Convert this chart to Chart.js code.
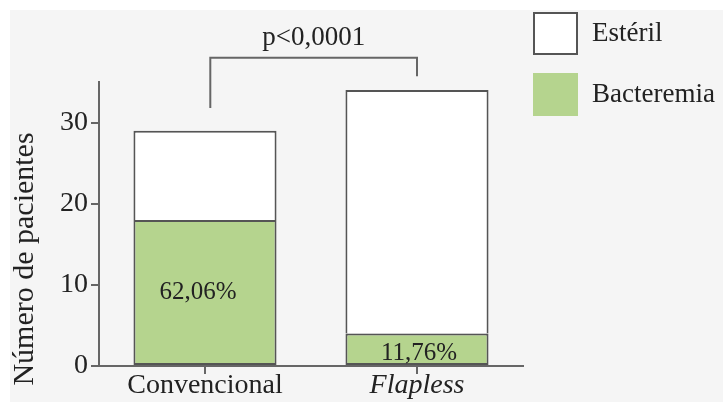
<!DOCTYPE html>
<html>
<head>
<meta charset="utf-8">
<script src="https://cdn.jsdelivr.net/npm/chart.js@4.4.1/dist/chart.umd.min.js"></script>
<style>
  html, body { margin: 0; padding: 0; background: #fff; }
  #wrap { position: relative; width: 723px; height: 402px; overflow: hidden; }
  #bg { position: absolute; left: 10px; top: 10px; right: 0; bottom: 0; background: #f5f5f5; }
  #chart { position: absolute; left: 0; top: 0; }
</style>
</head>
<body>
<div id="wrap"><div id="bg"></div><canvas id="chart" width="723" height="402"></canvas></div>
<script>
// datos
var grupos = ['Convencional', 'Flapless'];
var bacteremia = [18, 4];
var esteril = [11, 30];
var porcentajes = ['62,06%', '11,76%'];
var yTicks = [0, 10, 20, 30];
var yMax = 35;
var pValor = 'p<0,0001';
var tituloY = 'Número de pacientes';

var verde = '#b5d48e';
var borde = '#555';
var eje = '#666';
var serif = "'Liberation Serif', 'Times New Roman', serif";

var extras = {
  id: 'extras',
  afterDraw: function(chart) {
    var ctx = chart.ctx;
    var xs = chart.scales.x, ys = chart.scales.y;
    ctx.save();

    // corchete de significancia
    var xl = xs.getPixelForValue(0.025), xr = xs.getPixelForValue(1);
    var yTop = ys.getPixelForValue(38);
    ctx.strokeStyle = eje;
    ctx.lineWidth = 2;
    ctx.beginPath();
    ctx.moveTo(xl, ys.getPixelForValue(31.8));
    ctx.lineTo(xl, yTop);
    ctx.lineTo(xr, yTop);
    ctx.lineTo(xr, ys.getPixelForValue(35.7));
    ctx.stroke();

    ctx.fillStyle = '#222';
    ctx.font = '27px ' + serif;
    ctx.textAlign = 'center';
    ctx.textBaseline = 'alphabetic';
    ctx.fillText(pValor, (xl + xr) / 2, yTop - 13);

    // porcentajes dentro de las barras verdes
    var meta = chart.getDatasetMeta(0);
    ctx.font = '25px ' + serif;
    ctx.textBaseline = 'middle';
    meta.data.forEach(function(bar, i) {
      ctx.fillText(porcentajes[i], bar.x + (i === 0 ? -7 : 2), (bar.y + bar.base) / 2 + (i === 0 ? 0 : 4));
    });

    // titulo eje y
    ctx.save();
    ctx.translate(25, 259);
    ctx.rotate(-Math.PI / 2);
    ctx.font = '30px ' + serif;
    ctx.textAlign = 'center';
    ctx.textBaseline = 'middle';
    ctx.fillText(tituloY, 0, 0);
    ctx.restore();

    // leyenda
    var items = chart.data.datasets.slice().reverse();
    items.forEach(function(ds, i) {
      var by = 12 + i * 61;
      ctx.fillStyle = ds.backgroundColor;
      ctx.fillRect(533, by, 45, 43);
      if (ds.legendBorder) {
        ctx.strokeStyle = borde;
        ctx.lineWidth = 2;
        ctx.strokeRect(534, by + 1, 43, 41);
      }
      ctx.fillStyle = '#222';
      ctx.font = '27px ' + serif;
      ctx.textAlign = 'left';
      ctx.textBaseline = 'middle';
      ctx.fillText(ds.label, 592, by + 22);
    });

    ctx.restore();
  }
};

new Chart(document.getElementById('chart'), {
  type: 'bar',
  data: {
    labels: grupos,
    datasets: [
      { label: 'Bacteremia', data: bacteremia, backgroundColor: verde, legendBorder: false, borderSkipped: false },
      { label: 'Estéril', data: esteril, backgroundColor: '#ffffff', legendBorder: true, borderSkipped: 'start' }
    ]
  },
  options: {
    responsive: false,
    animation: false,
    devicePixelRatio: 1,
    layout: { padding: { left: 0, top: 82, right: 200, bottom: 0 } },
    datasets: {
      bar: {
        borderColor: borde,
        borderWidth: 2,
        categoryPercentage: 1,
        barPercentage: 0.675
      }
    },
    plugins: {
      legend: { display: false },
      tooltip: { enabled: false }
    },
    scales: {
      x: {
        stacked: true,
        offset: true,
        grid: { display: true, offset: false, drawOnChartArea: false, drawTicks: true, tickLength: 8, color: eje, lineWidth: 2 },
        border: { display: true, color: eje, width: 2 },
        ticks: {
          color: '#222',
          padding: -5,
          font: function(c) {
            return { family: serif, size: 28, style: c.index === 1 ? 'italic' : 'normal' };
          }
        },
        afterFit: function(s) { s.height = 36; }
      },
      y: {
        stacked: true,
        min: 0,
        max: yMax,
        grid: { display: true, drawOnChartArea: false, drawTicks: true, tickLength: 8, color: eje, lineWidth: 2 },
        border: { display: true, color: eje, width: 2 },
        ticks: { color: '#222', padding: 3, font: { family: serif, size: 28 } },
        afterBuildTicks: function(s) {
          s.ticks = yTicks.map(function(v) { return { value: v }; });
        },
        afterFit: function(s) { s.width = 99; }
      }
    }
  },
  plugins: [extras]
});
</script>
</body>
</html>
